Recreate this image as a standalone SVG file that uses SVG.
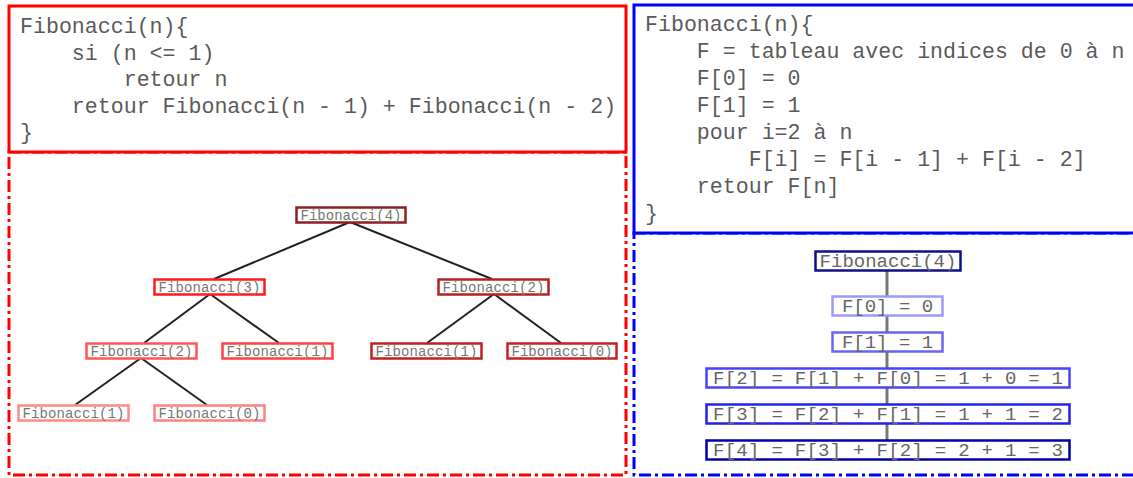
<svg xmlns="http://www.w3.org/2000/svg" width="1133" height="478" viewBox="0 0 1133 478">
  <style>
    .code { font-family: "Liberation Mono", "Courier New", monospace; font-size: 21.6px; fill: #5a5a5a; white-space: pre; }
    .small { font-family: "Liberation Mono", "Courier New", monospace; font-size: 14px; fill: #777777; text-anchor: middle; white-space: pre; }
    .mid { font-family: "Liberation Mono", "Courier New", monospace; font-size: 19px; fill: #666666; text-anchor: middle; white-space: pre; }
    .nbox { fill: #ffffff; stroke-width: 2.5; }
    .edge { stroke: #222222; stroke-width: 2; fill: none; }
    .chain { stroke: #777777; stroke-width: 3; fill: none; }
  </style>

  <rect width="1133" height="478" fill="#ffffff"/>

  <!-- recursive version: code panel and call tree frame -->
  <g id="recursive-frame">
    <rect x="9" y="152" width="617" height="323" fill="none" stroke="#ff0000" stroke-width="3" stroke-dasharray="12,4,3,4"/>
    <rect x="9" y="6" width="617" height="146" fill="#ffffff" stroke="#ff0000" stroke-width="3"/>
    <text class="code" x="20" y="33">Fibonacci(n){</text>
    <text class="code" x="20" y="59.5">    si (n &lt;= 1)</text>
    <text class="code" x="20" y="86">        retour n</text>
    <text class="code" x="20" y="112.5">    retour Fibonacci(n - 1) + Fibonacci(n - 2)</text>
    <text class="code" x="20" y="139">}</text>
  </g>

  <!-- iterative version: code panel and table frame -->
  <g id="iterative-frame">
    <rect x="634" y="233" width="520" height="242" fill="none" stroke="#0000ff" stroke-width="3" stroke-dasharray="12,4,3,4"/>
    <rect x="634" y="5" width="520" height="228" fill="#ffffff" stroke="#0000ff" stroke-width="3"/>
    <text class="code" x="645" y="31">Fibonacci(n){</text>
    <text class="code" x="645" y="58">    F = tableau avec indices de 0 à n</text>
    <text class="code" x="645" y="85">    F[0] = 0</text>
    <text class="code" x="645" y="112">    F[1] = 1</text>
    <text class="code" x="645" y="139">    pour i=2 à n</text>
    <text class="code" x="645" y="166">        F[i] = F[i - 1] + F[i - 2]</text>
    <text class="code" x="645" y="193">    retour F[n]</text>
    <text class="code" x="645" y="220">}</text>
  </g>

  <!-- connectors -->
  <g id="connectors">
    <line class="edge" x1="350" y1="222" x2="214" y2="279"/>
    <line class="edge" x1="350" y1="222" x2="492" y2="279"/>
    <line class="edge" x1="210" y1="294" x2="144" y2="343"/>
    <line class="edge" x1="210" y1="294" x2="279" y2="343"/>
    <line class="edge" x1="494" y1="294" x2="427" y2="343"/>
    <line class="edge" x1="494" y1="294" x2="561" y2="343"/>
    <line class="edge" x1="141" y1="358" x2="75" y2="405"/>
    <line class="edge" x1="141" y1="358" x2="207" y2="405"/>
    <line class="chain" x1="887" y1="270" x2="887" y2="440"/>
  </g>

  <!-- call tree nodes -->
  <g id="rec-f4">
    <rect class="nbox" x="296.5" y="207.5" width="109" height="15" stroke="#8b2020"/>
    <text class="small" x="351" y="219.5" textLength="101">Fibonacci(4)</text>
  </g>
  <g id="rec-f3">
    <rect class="nbox" x="154.5" y="279.5" width="110" height="15" stroke="#ff1a1a"/>
    <text class="small" x="209.5" y="291.5" textLength="102">Fibonacci(3)</text>
  </g>
  <g id="rec-f2-right">
    <rect class="nbox" x="438.5" y="279.5" width="110" height="15" stroke="#b22222"/>
    <text class="small" x="493.5" y="291.5" textLength="102">Fibonacci(2)</text>
  </g>
  <g id="rec-f2-left">
    <rect class="nbox" x="86.5" y="343.5" width="110" height="15" stroke="#ff5555"/>
    <text class="small" x="141.5" y="355.5" textLength="102">Fibonacci(2)</text>
  </g>
  <g id="rec-f1-mid">
    <rect class="nbox" x="222.5" y="343.5" width="110" height="15" stroke="#ff4040"/>
    <text class="small" x="277.5" y="355.5" textLength="102">Fibonacci(1)</text>
  </g>
  <g id="rec-f1-right">
    <rect class="nbox" x="371.5" y="343.5" width="110" height="15" stroke="#c02020"/>
    <text class="small" x="426.5" y="355.5" textLength="102">Fibonacci(1)</text>
  </g>
  <g id="rec-f0-right">
    <rect class="nbox" x="507.5" y="343.5" width="109" height="15" stroke="#c82020"/>
    <text class="small" x="562" y="355.5" textLength="101">Fibonacci(0)</text>
  </g>
  <g id="rec-f1-leaf">
    <rect class="nbox" x="18.5" y="405.5" width="110" height="15" stroke="#ff8888"/>
    <text class="small" x="73.5" y="417.5" textLength="102">Fibonacci(1)</text>
  </g>
  <g id="rec-f0-leaf">
    <rect class="nbox" x="154.5" y="405.5" width="110" height="15" stroke="#ff8080"/>
    <text class="small" x="209.5" y="417.5" textLength="102">Fibonacci(0)</text>
  </g>

  <!-- table filling chain -->
  <g id="it-f4">
    <rect class="nbox" x="815.5" y="251.5" width="145" height="19" stroke="#10108a" stroke-width="3"/>
    <text class="mid" x="888" y="267">Fibonacci(4)</text>
  </g>
  <g id="it-F0">
    <rect class="nbox" x="832.5" y="296.5" width="110" height="19" stroke="#9999ff" stroke-width="3"/>
    <text class="mid" x="887.5" y="312">F[0] = 0</text>
  </g>
  <g id="it-F1">
    <rect class="nbox" x="832.5" y="332.5" width="110" height="19" stroke="#6666ee" stroke-width="3"/>
    <text class="mid" x="887.5" y="348">F[1] = 1</text>
  </g>
  <g id="it-F2">
    <rect class="nbox" x="706.5" y="368.5" width="363" height="19" stroke="#4444ff" stroke-width="3"/>
    <text class="mid" x="888" y="384" textLength="350">F[2] = F[1] + F[0] = 1 + 0 = 1</text>
  </g>
  <g id="it-F3">
    <rect class="nbox" x="706.5" y="404.5" width="363" height="19" stroke="#2222ee" stroke-width="3"/>
    <text class="mid" x="888" y="420" textLength="350">F[3] = F[2] + F[1] = 1 + 1 = 2</text>
  </g>
  <g id="it-F4">
    <rect class="nbox" x="706.5" y="440.5" width="363" height="19" stroke="#0000aa" stroke-width="3"/>
    <text class="mid" x="888" y="456" textLength="350">F[4] = F[3] + F[2] = 2 + 1 = 3</text>
  </g>
</svg>
